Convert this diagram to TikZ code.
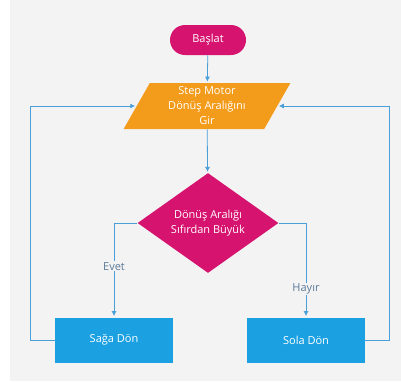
\documentclass[tikz,border=0pt]{standalone}
\usepackage{fontspec}
\setmainfont{Open Sans}
\usetikzlibrary{shapes.geometric,arrows.meta}

\definecolor{pinkfill}{HTML}{D6136F}
\definecolor{orangefill}{HTML}{F39B1A}
\definecolor{bluefill}{HTML}{1BA0E2}
\definecolor{linecol}{HTML}{4A9FD8}
\definecolor{labelcol}{HTML}{5B7A99}
\definecolor{bgcol}{HTML}{F3F3F4}

\begin{document}
\begin{tikzpicture}[x=1pt, y=-1pt, shorten >=1pt, thick, font=\fontsize{11}{15}\selectfont,
    start node/.style={draw=none, fill=pinkfill, text=white, rounded corners=15pt, minimum width=76pt, minimum height=30pt},
    input node/.style={trapezium, trapezium left angle=65, trapezium right angle=115, trapezium stretches=true, fill=orangefill, text=white, minimum width=167pt, minimum height=46pt, align=center, inner sep=0pt},
    check node/.style={diamond, fill=pinkfill, text=white, minimum width=141pt, minimum height=73pt, inner sep=0pt, align=center},
    turn node/.style={rectangle, fill=bluefill, text=white, minimum width=118pt, minimum height=45pt},
    flow/.style={draw=linecol, line width=0.8pt, -{Latex[length=5pt,width=5pt]}},
    answer/.style={fill=bgcol, text=labelcol, inner sep=1pt}]

    \fill[white] (0,0) rectangle (401,381);
    \fill[bgcol] (10,0) rectangle (401,381);
    \useasboundingbox (0,0) rectangle (401,381);

    \node[start node] (start) at (208,40) {Başlat};
    \node[input node] (input) at (207,106) {Step Motor\\Dönüş Aralığını\\Gir};
    \node[check node] (check) at (208,223) {Dönüş Aralığı\\Sıfırdan Büyük};
    \node[turn node] (right) at (114,340) {Sağa Dön};
    \node[turn node] (left) at (306,340) {Sola Dön};

    \coordinate (lback) at (30,340);
    \coordinate (rback) at (389,340);

    \draw[flow] (start) -- (input);
    \draw[flow] (input) -- (check);
    \draw[flow] (check.west) -| node[answer, pos=0.73] {Evet} (right);
    \draw[flow] (check.east) -| node[answer, pos=0.85] {Hayır} (left);
    \draw[flow] (right.west) -- (lback) |- (input);
    \draw[flow] (left.east) -- (rback) |- (input);
\end{tikzpicture}
\end{document}
